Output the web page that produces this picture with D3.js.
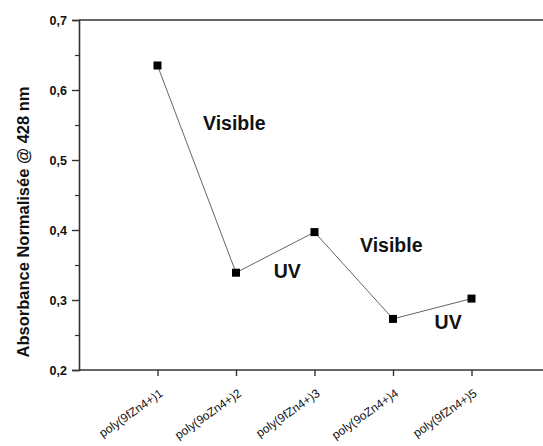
<!DOCTYPE html>
<html>
<head>
<meta charset="utf-8">
<script src="https://cdn.jsdelivr.net/npm/d3@7"></script>
<style>
  html, body { margin: 0; padding: 0; background: #fff; }
  svg { display: block; font-family: "Liberation Sans", Arial, sans-serif; }
</style>
</head>
<body>
<svg id="chart" width="543" height="446"></svg>
<script>
// Samples along the x axis
const categories = ["poly(9fZn4+)1", "poly(9oZn4+)2", "poly(9fZn4+)3", "poly(9oZn4+)4", "poly(9fZn4+)5"];
// Normalised absorbance at 428 nm
const absorbance = [0.635, 0.339, 0.397, 0.273, 0.302];
// Y tick values and their labels (comma decimals)
const yTicks = [0.2, 0.3, 0.4, 0.5, 0.6, 0.7];
const yTickLabels = ["0,2", "0,3", "0,4", "0,5", "0,6", "0,7"];
const yMinorTicks = [0.25, 0.35, 0.45, 0.55, 0.65];
// Region annotations, placed in data coordinates (category index, absorbance)
const noteText = ["Visible", "UV", "Visible", "UV"];
const noteX = [1.58, 2.48, 3.58, 4.53];
const noteY = [0.543, 0.331, 0.369, 0.259];

const svg = d3.select("#chart");
const plotLeft = 79, plotTop = 20, plotBottom = 370;

const x = d3.scaleLinear().domain([0, 6]).range([plotLeft, plotLeft + 6 * 78.5]);
const y = d3.scaleLinear().domain([0.2, 0.7]).range([plotBottom, plotTop]);

const axisColor = "#333";

// Frame: top edge
svg.append("line")
  .attr("x1", plotLeft).attr("x2", 543)
  .attr("y1", plotTop).attr("y2", plotTop)
  .attr("stroke", axisColor).attr("stroke-width", 1.6);

// Y axis with major ticks
const yAxis = svg.append("g")
  .attr("transform", `translate(${plotLeft},0)`)
  .call(d3.axisLeft(y).tickValues(yTicks)
    .tickFormat((d, i) => yTickLabels[i]).tickSize(7).tickPadding(5));
yAxis.select(".domain").attr("stroke", axisColor).attr("stroke-width", 1.6);
yAxis.selectAll(".tick line").attr("stroke", axisColor).attr("stroke-width", 1.4);
yAxis.selectAll(".tick text")
  .attr("font-size", 12.5).attr("font-weight", "bold").attr("fill", "#111")
  .attr("font-family", "Liberation Sans, Arial, sans-serif");

// Y minor ticks
const yMinor = svg.append("g")
  .attr("transform", `translate(${plotLeft},0)`)
  .call(d3.axisLeft(y).tickValues(yMinorTicks).tickFormat("").tickSize(4));
yMinor.select(".domain").remove();
yMinor.selectAll(".tick line").attr("stroke", axisColor).attr("stroke-width", 1.2);

// X axis
const xAxis = svg.append("g")
  .attr("transform", `translate(0,${plotBottom})`)
  .call(d3.axisBottom(x).tickValues([1, 2, 3, 4, 5])
    .tickFormat(d => categories[d - 1]).tickSize(6).tickPadding(4));
xAxis.select(".domain").attr("stroke", axisColor).attr("stroke-width", 1.6)
  .attr("d", `M${plotLeft},0H543`);
xAxis.selectAll(".tick line").attr("stroke", axisColor).attr("stroke-width", 1.4);
xAxis.selectAll(".tick text")
  .attr("font-size", 12).attr("fill", "#111")
  .attr("font-family", "Liberation Sans, Arial, sans-serif")
  .attr("text-anchor", "end")
  .attr("dy", null)
  .attr("transform", "translate(0,17) rotate(-35)");

// Y axis title
svg.append("text")
  .attr("transform", `translate(29,222) rotate(-90)`)
  .attr("text-anchor", "middle")
  .attr("font-size", 16.5).attr("font-weight", "bold").attr("fill", "#111")
  .text("Absorbance Normalisée @ 428 nm");

// Connecting line
const series = absorbance.map((v, i) => ({ i: i + 1, v }));
svg.append("path")
  .datum(series)
  .attr("fill", "none")
  .attr("stroke", "#666")
  .attr("stroke-width", 1)
  .attr("d", d3.line().x(d => x(d.i)).y(d => y(d.v)));

// Square markers
const ms = 8;
svg.selectAll("rect.pt")
  .data(series)
  .join("rect")
  .attr("class", "pt")
  .attr("x", d => x(d.i) - ms / 2)
  .attr("y", d => y(d.v) - ms / 2)
  .attr("width", ms).attr("height", ms)
  .attr("fill", "#000");

// Region annotations
svg.selectAll("text.note")
  .data(noteText)
  .join("text")
  .attr("class", "note")
  .attr("x", (d, i) => x(noteX[i]))
  .attr("y", (d, i) => y(noteY[i]))
  .attr("font-size", 19.5).attr("font-weight", "bold").attr("fill", "#111")
  .text(d => d);
</script>
</body>
</html>
